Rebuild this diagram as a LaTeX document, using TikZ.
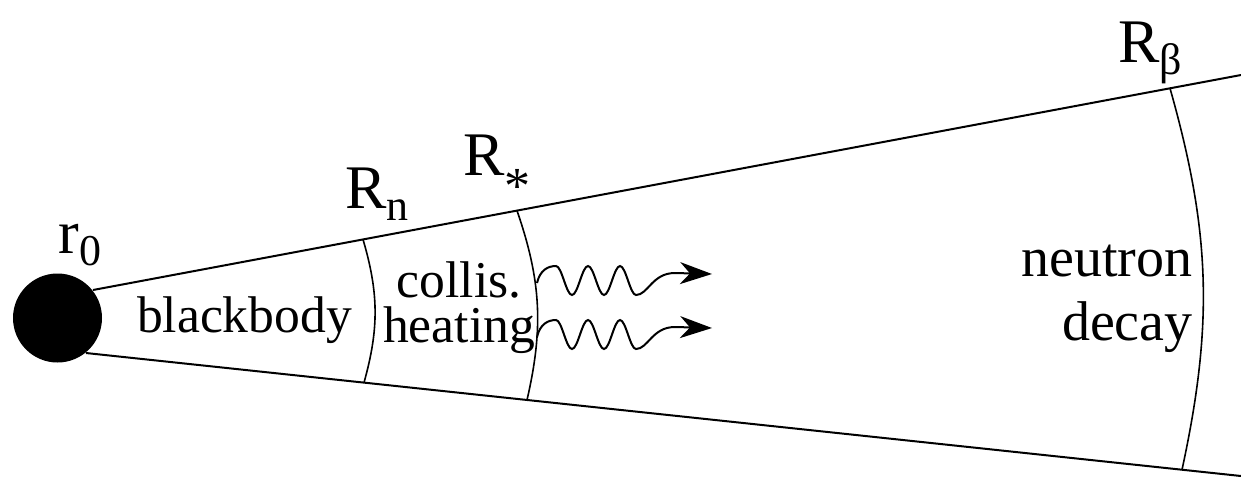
\documentclass[tikz,border=0pt]{standalone}
\usepackage{fontspec}
\setmainfont{Liberation Serif}
\usetikzlibrary{arrows.meta}

\newcommand{\sublab}[2]{#1\raisebox{-6pt}{\fontsize{22}{22}\selectfont #2}}

\begin{document}
\begin{tikzpicture}[x=0.5pt, y=-0.5pt,
  ray/.style={line width=1pt},
  shell/.style={line width=0.8pt},
  region/.style={inner sep=0pt, font=\fontsize{25.8}{22.5}\selectfont},
  radlabel/.style={inner sep=0pt, anchor=base west, font=\fontsize{31}{31}\selectfont},
  wave/.style={line width=1pt, -{Stealth[length=16pt,width=11pt,inset=5pt]}}]
\useasboundingbox (0,0) rectangle (1241,478);
% core and cone
\node[circle, fill=black, minimum size=44.5pt, inner sep=0pt] (core) at (57.5,318) {};
\coordinate (up0) at (93,290);
\coordinate (up1) at (1241,75);
\coordinate (lo0) at (86,353);
\coordinate (lo1) at (1241,476);
\draw[ray] (up0) -- (up1);
\draw[ray] (lo0) -- (lo1);
% shells
\coordinate (rnt) at (363,239.4);
\coordinate (rnb) at (364,382.6);
\coordinate (rst) at (517,210.6);
\coordinate (rsb) at (527,400);
\coordinate (rbt) at (1170,88.3);
\coordinate (rbb) at (1182,469.7);
\draw[shell] (rnt) to[bend left=16] (rnb);
\draw[shell] (rst) to[bend left=16] (rsb);
\draw[shell] (rbt) to[bend left=14] (rbb);
% radii
\node[radlabel] (r0) at (58,253) {\sublab{r}{0}};
\node[radlabel] (rn) at (345,208) {\sublab{R}{n}};
\node[radlabel] (rs) at (463,175) {R\raisebox{-14pt}{\fontsize{26}{26}\selectfont *}};
\node[radlabel] (rb) at (1118,62) {\sublab{R}{β}};
% regions (base = last line)
\node[region, anchor=base] (bb) at (244.5,332) {blackbody};
\node[region, anchor=base, align=center] (ch) at (459,342) {collis.\\heating};
\node[region, anchor=base east, align=right, font=\fontsize{28}{32}\selectfont] (nd) at (1193,340) {neutron\\decay};
% escaping photons
\foreach \dy/\nm in {0/a,54/b} {
  \begin{scope}[shift={(0,\dy)}]
    \coordinate (src\nm) at (537,283);
    \coordinate (tip\nm) at (712,274);
    \draw[wave] (src\nm) .. controls (540,270) and (548,266) .. (556,266)
      cos (564,280.5) sin (572,295) cos (580,280.5) sin (588,266)
      cos (596,280.5) sin (604,295) cos (612,280.5) sin (620,266)
      cos (628,280.5) sin (636,295) .. controls (648,295) and (652,273) .. (675,273)
      -- (tip\nm);
  \end{scope}
}
\end{tikzpicture}
\end{document}
